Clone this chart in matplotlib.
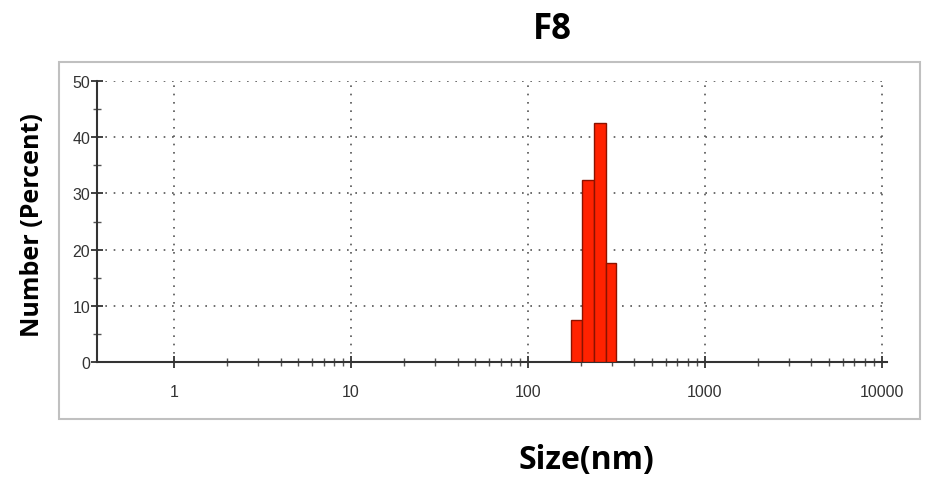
# DLS size distribution by number - F8
import numpy as np
import matplotlib.pyplot as plt
from matplotlib.patches import Rectangle
from matplotlib.ticker import MultipleLocator, FixedLocator

# bin edges (nm) and number percent in each bin
bin_edges = [175, 203, 237, 275, 314]
number_pct = [7.5, 32.4, 42.5, 17.6]

x_ticks = [1, 10, 100, 1000, 10000]
x_labels = ['1', '10', '100', '1000', '10000']
y_ticks = [0, 10, 20, 30, 40, 50]

fig = plt.figure(figsize=(9.28, 4.81), dpi=100)
W, H = 928, 481

# light gray frame around the plot area
fig.patches.append(Rectangle((59 / W, 1 - 420 / H), (920 - 59) / W, (420 - 63) / H,
                             transform=fig.transFigure, fill=False,
                             edgecolor='#c0c0c0', linewidth=1.5))

ax = fig.add_axes([97 / W, 1 - 363 / H, (887 - 97) / W, (363 - 82) / H])

left = bin_edges[:-1]
widths = np.diff(bin_edges)
ax.bar(left, number_pct, width=widths, align='edge', color='#ff2200',
       edgecolor='#8a1200', linewidth=1.0, zorder=3)

ax.set_xscale('log')
ax.set_xlim(0.367, 10700)
ax.set_ylim(0, 50)

# minor ticks 2..9 in each decade from 1 to 10000
minor_x = [m * d for d in x_ticks[:-1] for m in range(2, 10)]
ax.xaxis.set_major_locator(FixedLocator(x_ticks))
ax.set_xticklabels(x_labels)
ax.xaxis.set_minor_locator(FixedLocator(minor_x))
ax.xaxis.set_minor_formatter(plt.NullFormatter())
ax.yaxis.set_major_locator(FixedLocator(y_ticks))
ax.yaxis.set_minor_locator(MultipleLocator(5))

for s in ['top', 'right']:
    ax.spines[s].set_visible(False)
for s in ['left', 'bottom']:
    ax.spines[s].set_color('#333333')
    ax.spines[s].set_linewidth(1.5)

ax.tick_params(axis='both', which='major', direction='inout', length=8, width=1.3,
               color='#333333', labelsize=11.5, labelcolor='#333333')
ax.tick_params(axis='both', which='minor', direction='inout', length=6, width=1.0,
               color='#555555')
ax.tick_params(axis='x', which='major', pad=12)
ax.tick_params(axis='y', which='major', pad=1)
for lbl in ax.get_xticklabels() + ax.get_yticklabels():
    lbl.set_family('Liberation Sans')

ax.grid(True, which='major', linestyle=(0, (1, 4)), color='#555555', linewidth=1.2)
ax.set_axisbelow(True)

fig.text(552 / W, 1 - 30 / H, 'F8', ha='center', va='center',
         fontsize=25, fontweight='bold', family='Open Sans')
fig.text(586 / W, 1 - 460 / H, 'Size(nm)', ha='center', va='center',
         fontsize=23, fontweight='bold', family='Open Sans')
fig.text(33 / W, 1 - 225 / H, 'Number (Percent)', ha='center', va='center',
         rotation=90, fontsize=18, fontweight='bold', family='Open Sans')

fig.savefig('out.png', dpi=100)
